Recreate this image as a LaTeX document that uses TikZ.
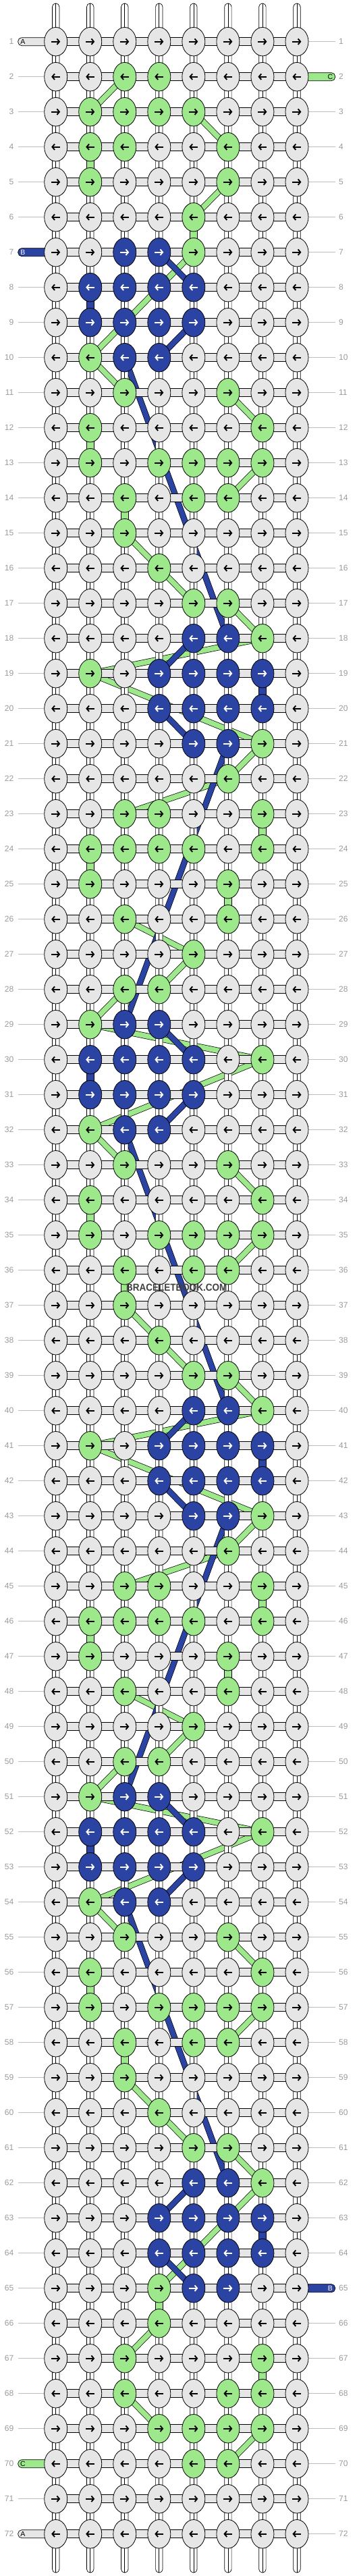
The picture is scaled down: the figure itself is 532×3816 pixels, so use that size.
\documentclass[tikz,border=0pt]{standalone}
\usepackage{fontspec}
\setmainfont{Liberation Sans}
\usetikzlibrary{shapes.geometric,arrows.meta}

\definecolor{kg}{HTML}{E6E6E6}
\definecolor{kl}{HTML}{9EE88C}
\definecolor{kb}{HTML}{2B43A3}
\colorlet{ag}{black}
\colorlet{al}{black}
\colorlet{ab}{white}
\definecolor{rowlab}{HTML}{9A9A9A}
\definecolor{linegrey}{HTML}{BDBDBD}
\definecolor{wmgrey}{HTML}{404040}

\pgfdeclarelayer{floats}
\pgfdeclarelayer{strings}
\pgfsetlayers{floats,strings,main}

\tikzset{
  knot/.style={ellipse, draw=black, line width=0.8pt, fill=k#1, minimum width=34pt, minimum height=42.5pt, inner sep=0pt, outer sep=0pt},
  arr/.style 2 args={path picture={\draw[line width=1.9pt, draw=a#2, -{Straight Barb[length=3.6pt,width=8.6pt]}]
      ([xshift={-6.5pt*(#1)}]path picture bounding box.center) -- ([xshift={6.5pt*(#1)}]path picture bounding box.center);}},
  strand/.style={draw=black, fill=white, line width=0.7pt, rounded corners=5pt},
  band/.style={draw=black, fill=kg, line width=0.7pt},
  tab/.style={draw=black, line width=0.7pt, rounded corners=5.5pt},
  gfloat/.style={draw=black, line width=0.7pt, double=kl, double distance=7.6pt},
  bfloat/.style={draw=black, line width=0.7pt, double=kb, double distance=7.6pt},
  rowno/.style={text=rowlab, font=\fontsize{12}{12}\selectfont, inner sep=0pt},
  rowline/.style={draw=linegrey, line width=0.8pt},
  tabtext/.style={font=\fontsize{10.5}{10.5}\selectfont, inner sep=0pt},
  watermark/.style={text=wmgrey, font=\bfseries\fontsize{15}{15}\selectfont, inner sep=0pt}
}

\begin{document}
\begin{tikzpicture}[x=1pt,y=-1pt]
\useasboundingbox (0,0) rectangle (532,3816);

% knots
\foreach \r/\row in {
  1/{g,g,g,g,g,g,g,g}, 2/{g,g,l,l,g,g,g,g}, 3/{g,l,l,l,l,g,g,g}, 4/{g,l,l,g,g,l,g,g},
  5/{g,l,g,g,g,l,g,g}, 6/{g,g,g,g,l,g,g,g}, 7/{g,g,b,b,l,g,g,g}, 8/{g,b,b,b,b,g,g,g},
  9/{g,b,b,b,b,g,g,g}, 10/{g,l,b,b,g,g,g,g}, 11/{g,g,l,g,g,l,g,g}, 12/{g,l,g,g,g,g,l,g},
  13/{g,l,g,l,l,l,l,g}, 14/{g,g,l,g,l,l,g,g}, 15/{g,g,l,g,g,g,g,g}, 16/{g,g,g,l,g,g,g,g},
  17/{g,g,g,g,l,l,g,g}, 18/{g,g,g,g,b,b,l,g}, 19/{g,l,g,b,b,b,b,g}, 20/{g,g,g,b,b,b,b,g},
  21/{g,g,g,g,b,b,l,g}, 22/{g,g,g,g,g,l,g,g}, 23/{g,g,l,l,g,g,l,g}, 24/{g,l,l,l,l,g,l,g},
  25/{g,l,g,g,g,l,g,g}, 26/{g,g,l,g,g,l,g,g}, 27/{g,g,g,g,l,g,g,g}, 28/{g,g,l,l,g,g,g,g},
  29/{g,l,b,b,g,g,g,g}, 30/{g,b,b,b,b,g,l,g}, 31/{g,b,b,b,b,g,g,g}, 32/{g,l,b,b,g,g,g,g},
  33/{g,g,l,g,g,l,g,g}, 34/{g,l,g,g,g,g,l,g}, 35/{g,l,g,l,l,l,l,g}, 36/{g,g,l,g,l,l,g,g},
  37/{g,g,l,g,g,g,g,g}, 38/{g,g,g,l,g,g,g,g}, 39/{g,g,g,g,l,l,g,g}, 40/{g,g,g,g,b,b,l,g},
  41/{g,l,g,b,b,b,b,g}, 42/{g,g,g,b,b,b,b,g}, 43/{g,g,g,g,b,b,l,g}, 44/{g,g,g,g,g,l,g,g},
  45/{g,g,l,l,g,g,l,g}, 46/{g,l,l,l,l,g,l,g}, 47/{g,l,g,g,g,l,g,g}, 48/{g,g,l,g,g,l,g,g},
  49/{g,g,g,g,l,g,g,g}, 50/{g,g,l,l,g,g,g,g}, 51/{g,l,b,b,g,g,g,g}, 52/{g,b,b,b,b,g,l,g},
  53/{g,b,b,b,b,g,g,g}, 54/{g,l,b,b,g,g,g,g}, 55/{g,g,l,g,g,l,g,g}, 56/{g,l,g,g,g,g,l,g},
  57/{g,l,g,l,l,l,l,g}, 58/{g,g,l,g,l,l,g,g}, 59/{g,g,l,g,g,g,g,g}, 60/{g,g,g,l,g,g,g,g},
  61/{g,g,g,g,l,l,g,g}, 62/{g,g,g,g,b,b,l,g}, 63/{g,g,g,b,b,b,b,g}, 64/{g,g,g,b,b,b,b,g},
  65/{g,g,g,l,b,b,g,g}, 66/{g,g,g,l,g,g,g,g}, 67/{g,g,l,g,g,g,l,g}, 68/{g,g,l,g,g,l,l,g},
  69/{g,g,g,l,l,l,l,g}, 70/{g,g,g,g,l,l,g,g}, 71/{g,g,g,g,g,g,g,g}, 72/{g,g,g,g,g,g,g,g}}{
  \pgfmathsetmacro\s{int(1-2*mod(\r+1,2))}
  \foreach \k [count=\c] in \row
    \node[knot=\k, arr={\s}{\k}] (k-\r-\c) at ({82.7+51.04*(\c-1)},{61.7+52*(\r-1)}) {};
}

% row numbers
\foreach \r in {1,...,72}{
  \node[rowno, anchor=east] (ln-\r) at (20.5,{61.7+52*(\r-1)}) {\r};
  \node[rowno, anchor=west] (rn-\r) at (502,{61.7+52*(\r-1)}) {\r};
}

\foreach \c in {1,...,8}{
  \coordinate (top-\c) at ({82.7+51.04*(\c-1)},5);
  \coordinate (bot-\c) at ({82.7+51.04*(\c-1)},3811);
}

\begin{pgfonlayer}{floats}
\foreach \a/\i/\b/\j in {2/3/3/2, 3/5/4/6, 5/6/6/5, 7/5/10/2, 10/2/11/3, 11/6/12/7, 13/7/14/6,
    15/3/16/4, 16/4/17/5, 17/6/18/7, 18/7/19/2, 19/2/21/7, 21/7/22/6, 22/6/23/3, 26/3/27/5,
    27/5/28/4, 28/3/29/2, 29/2/30/7, 30/7/32/2, 32/2/33/3, 33/6/34/7, 35/7/36/6, 37/3/38/4,
    38/4/39/5, 39/6/40/7, 40/7/41/2, 41/2/43/7, 43/7/44/6, 44/6/45/3, 48/3/49/5, 49/5/50/4,
    50/3/51/2, 51/2/52/7, 52/7/54/2, 54/2/55/3, 55/6/56/7, 57/7/58/6, 59/3/60/4, 60/4/61/5,
    61/6/62/7, 62/7/65/4, 66/4/67/3, 68/3/69/4, 69/7/70/6}
  \draw[gfloat] (k-\a-\i.center) -- (k-\b-\j.center);
\foreach \a/\i/\b/\j in {7/4/8/5, 9/5/10/4, 10/3/18/6, 18/5/19/4, 20/4/21/5, 21/6/29/3,
    29/4/30/5, 31/5/32/4, 32/3/40/6, 40/5/41/4, 42/4/43/5, 43/6/51/3, 51/4/52/5, 53/5/54/4,
    54/3/62/6, 62/5/63/4, 64/4/65/5}
  \draw[bfloat] (k-\a-\i.center) -- (k-\b-\j.center);
\end{pgfonlayer}

\begin{pgfonlayer}{strings}
\foreach \c in {1,...,8}{
  \draw[strand] ([xshift=-5.2pt]top-\c) rectangle ([xshift=5.2pt]bot-\c);
  \draw[line width=0.7pt] (top-\c) -- (bot-\c);
}
\foreach \a/\b/\c in {4/5/2, 6/7/5, 12/13/2, 14/15/3, 23/24/7, 24/25/2, 25/26/6, 34/35/2,
    36/37/3, 45/46/7, 46/47/2, 47/48/6, 56/57/2, 58/59/3, 65/66/4, 67/68/7}
  \draw[band, fill=kl] ([xshift=-5.2pt]k-\a-\c.center) rectangle ([xshift=5.2pt]k-\b-\c.center);
\foreach \a/\b/\c in {8/9/2, 19/20/7, 30/31/2, 41/42/7, 52/53/2, 63/64/7}
  \draw[band, fill=kb] ([xshift=-5.2pt]k-\a-\c.center) rectangle ([xshift=5.2pt]k-\b-\c.center);
\foreach \r in {1,...,72}{
  \draw[band] ([yshift=6pt]k-\r-1.center) rectangle ([yshift=-6pt]k-\r-8.center);
  \draw[rowline] ([xshift=6pt]ln-\r.east) -- (k-\r-1.west);
  \draw[rowline] (k-\r-8.east) -- ([xshift=-5.5pt]rn-\r.west);
}
\foreach \r/\col/\txt/\tc in {1/kg/A/black, 7/kb/B/white, 70/kl/C/black, 72/kg/A/black}{
  \coordinate (tab-\r) at (26.7,{61.7+52*(\r-1)});
  \draw[tab, fill=\col] ([yshift=6pt]tab-\r) rectangle ([yshift=-6pt]k-\r-1.center);
  \node[tabtext, text=\tc] (tl-\r) at ([xshift=7.3pt]tab-\r) {\txt};
}
\foreach \r/\col/\txt/\tc in {2/kl/C/black, 65/kb/B/white}{
  \coordinate (tab-\r) at (496.7,{61.7+52*(\r-1)});
  \draw[tab, fill=\col] ([yshift=6pt]k-\r-8.center) rectangle ([yshift=-6pt]tab-\r);
  \node[tabtext, text=\tc] (tr-\r) at ([xshift=-7.3pt]tab-\r) {\txt};
}
\end{pgfonlayer}

\node[watermark] (wm) at (261.7,1907.3) {\scalebox{0.9}[1]{BRACELETBOOK.COM}};
\end{tikzpicture}
\end{document}
